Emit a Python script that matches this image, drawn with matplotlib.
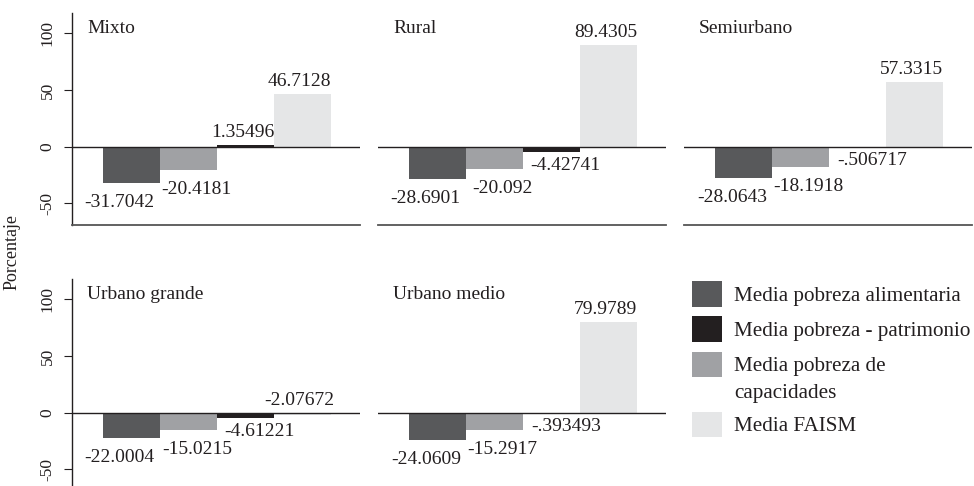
import matplotlib
matplotlib.use('Agg')
import matplotlib.pyplot as plt
from matplotlib.patches import Rectangle

categories = ['Mixto', 'Rural', 'Semiurbano', 'Urbano grande', 'Urbano medio']
alimentaria = [-31.7042, -28.6901, -28.0643, -22.0004, -24.0609]
capacidades = [-20.4181, -20.092, -18.1918, -15.0215, -15.2917]
patrimonio = [1.35496, -4.42741, -0.506717, -4.61221, -0.393493]
faism = [46.7128, 89.4305, 57.3315, -2.07672, 79.9789]

# bar order inside each panel
series = [alimentaria, capacidades, patrimonio, faism]
colors = ['#58595b', '#a0a1a4', '#231f20', '#e5e6e7']

legend_labels = ['Media pobreza alimentaria', 'Media pobreza - patrimonio',
                 'Media pobreza de\ncapacidades', 'Media FAISM']
legend_colors = ['#58595b', '#231f20', '#a0a1a4', '#e5e6e7']

yticks = [-50, 0, 50, 100]

plt.rcParams['font.family'] = ['Liberation Serif', 'DejaVu Serif']

W, H = 974, 486
fig = plt.figure(figsize=(W / 100, H / 100), dpi=100)


def fmt(v):
    s = '{:.6g}'.format(v)
    return s.replace('-0.', '-.') if s.startswith('-0.') else s


px = 0.72  # points per pixel at dpi 100
# nudge of the value labels under negative bars, per series (px)
neg_dx = [-12, 8, 14, 0]
neg_dy = [-24, -24, -18, -18]

ax_w, ax_h = 288.3, 211.7
lefts = [71.7, 377.7, 683.7]
tops = [13.3, 279.3]

for k, cat in enumerate(categories):
    r, c = divmod(k, 3)
    ax = fig.add_axes([lefts[c] / W, (H - tops[r] - ax_h) / H, ax_w / W, ax_h / H])
    for i, (vals, col) in enumerate(zip(series, colors)):
        v = vals[k]
        ax.bar(i, v, width=1.0, color=col, linewidth=0)
        above = v >= 0 or i == 3
        if above:
            xy, off = (i, max(v, 0)), (-3 * px, 8 * px)
        else:
            xy, off = (i, v), (neg_dx[i] * px, neg_dy[i] * px)
        ax.annotate(fmt(v), xy, xytext=off, textcoords='offset points',
                    ha='center', va='baseline', fontsize=14, color='#231f20')
    ax.axhline(0, color='#231f20', lw=1.0, zorder=3)
    ax.set_xlim(-1.054, 4.004)
    ax.set_ylim(-69.1, 117.7)
    ax.set_xticks([])
    ax.spines['top'].set_visible(False)
    ax.spines['right'].set_visible(False)
    ax.spines['bottom'].set_color('#555555')
    ax.spines['bottom'].set_linewidth(1.3)
    if c == 0:
        ax.spines['left'].set_color('#231f20')
        ax.spines['left'].set_linewidth(1.0)
        ax.set_yticks(yticks)
        ax.set_yticklabels([str(t) for t in yticks], rotation=90, va='center',
                           fontsize=12.5)
        ax.tick_params(axis='y', length=5.5, width=0.8, pad=6, colors='#231f20')
    else:
        ax.spines['left'].set_visible(False)
        ax.set_yticks([])
    ax.text(0.053, 0.926, cat, transform=ax.transAxes, fontsize=14,
            ha='left', va='center', color='#231f20')

fig.text(12 / W, 1 - 252 / H, 'Porcentaje', rotation=90, ha='center',
         va='center', fontsize=13, color='#231f20')

# legend drawn in the free sixth cell
box_w, box_h = 30.6, 25.7
y = 281.0
for lab, col in zip(legend_labels, legend_colors):
    fig.patches.append(Rectangle((691.7 / W, (H - y - box_h) / H), box_w / W,
                                 box_h / H, transform=fig.transFigure,
                                 facecolor=col, edgecolor='none'))
    lines = lab.split('\n')
    for j, line in enumerate(lines):
        fig.text(734 / W, 1 - (y + box_h / 2 + 26.7 * j) / H, line,
                 ha='left', va='center_baseline', fontsize=15.2, color='#231f20')
    y += 35.3 + 26.7 * (len(lines) - 1) - (2 if len(lines) > 1 else 0)

fig.savefig('out.png', dpi=100)
